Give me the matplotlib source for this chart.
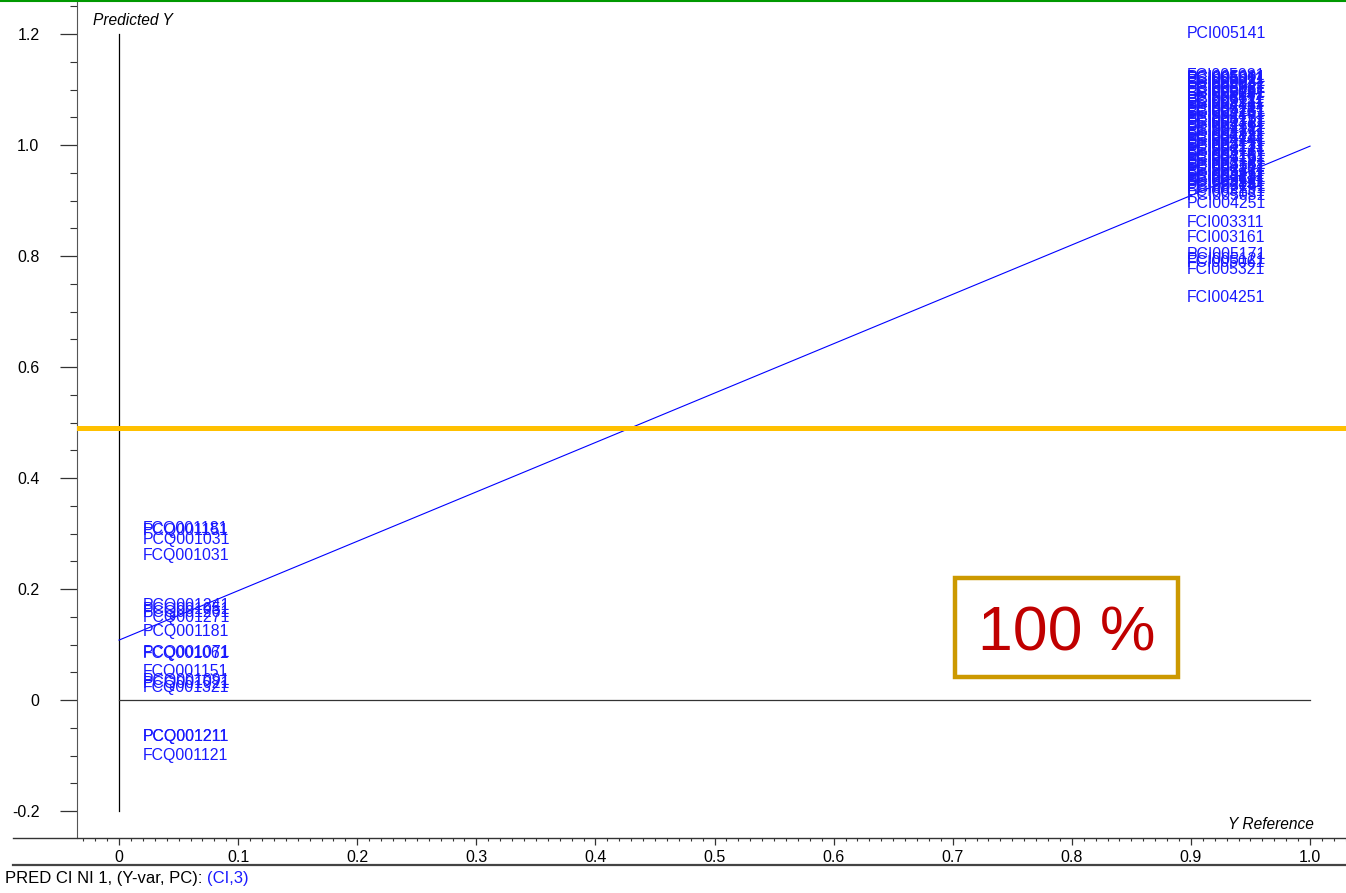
import matplotlib
matplotlib.use("Agg")
import matplotlib.pyplot as plt
from matplotlib.lines import Line2D
from matplotlib.patches import Rectangle
from matplotlib.ticker import MultipleLocator

plt.rcParams["font.family"] = ["Liberation Sans", "DejaVu Sans"]

# samples with reference Y = 1
high_names = [
    "PCI005141", "FCI005081", "PCI005091", "FCI005011", "PCI005021", "FCI005031",
    "PCI005221", "FCI005111", "PCI005261", "FCI005241", "PCI005311", "FCI005131",
    "PCI004111", "FCI004121", "PCI004131", "FCI004141", "PCI004161", "FCI004171",
    "PCI004181", "FCI004191", "PCI004211", "FCI004221", "PCI004231", "FCI004241",
    "PCI003111", "FCI003121", "PCI003131", "FCI003141", "PCI003151", "FCI003171",
    "PCI003181", "FCI003191", "PCI003211", "FCI003221", "PCI003231", "FCI003241",
    "PCI005011", "FCI005021", "PCI005031", "FCI005091", "PCI005111", "FCI005221",
    "PCI005241", "FCI005261", "PCI005131", "FCI005311", "PCI004121", "FCI004111",
    "PCI004141", "FCI004131", "PCI004171", "FCI004161", "PCI004191", "FCI004181",
    "PCI004221", "FCI004211", "PCI003121", "FCI003111", "PCI003141", "FCI003131",
    "PCI002231", "PCI002251", "PCI005051", "PCI004251", "FCI003311", "FCI003161",
    "PCI005171", "PCI005121", "FCI005061", "FCI005321", "FCI004251",
]
high_pred = [
    1.204, 1.128, 1.125, 1.121, 1.117, 1.112,
    1.107, 1.103, 1.098, 1.092, 1.087, 1.082,
    1.076, 1.070, 1.064, 1.058, 1.052, 1.046,
    1.040, 1.034, 1.028, 1.022, 1.016, 1.010,
    1.004, 0.998, 0.992, 0.986, 0.980, 0.974,
    0.968, 0.962, 0.956, 0.950, 0.944, 0.938,
    1.123, 1.114, 1.105, 1.095, 1.085, 1.079,
    1.067, 1.061, 1.049, 1.043, 1.031, 1.019,
    1.013, 1.001, 0.995, 0.983, 0.977, 0.965,
    0.959, 0.947, 0.941, 0.935, 0.929, 0.920,
    0.932, 0.925, 0.912, 0.897, 0.863, 0.836,
    0.806, 0.797, 0.792, 0.779, 0.728,
]

# samples with reference Y = 0
low_names = [
    "FCQ001181", "PCQ001151", "PCQ001031", "FCQ001031", "PCQ001241", "PCQ001051",
    "PCQ001261", "PCQ001271", "PCQ001181", "PCQ001071", "FCQ001061", "FCQ001151",
    "PCQ001091", "PCQ001021", "FCQ001321", "PCQ001211", "PCQ001211", "FCQ001121",
]
low_pred = [
    0.312, 0.308, 0.293, 0.264, 0.174, 0.167,
    0.161, 0.152, 0.126, 0.089, 0.087, 0.055,
    0.039, 0.032, 0.026, -0.063, -0.063, -0.097,
]

fit_offset = 0.108
fit_slope = 0.890
threshold = 0.49
score_text = "100 %"

fig = plt.figure(figsize=(13.46, 8.93), dpi=100)
ax = fig.add_axes([77 / 1346, 55 / 893, 1269 / 1346, 838 / 893])
ax.set_xlim(-0.0353, 1.0302)
ax.set_ylim(-0.2486, 1.2613)

for s in ["top", "right", "bottom"]:
    ax.spines[s].set_visible(False)
ax.spines["left"].set_color("#555555")

# reference lines
ax.plot([0, 0], [-0.2, 1.2], color="black", lw=0.9)
ax.plot([0, 1], [0, 0], color="#333333", lw=0.9)
xs = [0, 1]
ax.plot(xs, [fit_offset + fit_slope * x for x in xs], color="#0000ff", lw=0.8)
ax.axhline(threshold, color="#ffc000", lw=3.6, zorder=3)

blue = "#1a1aff"
for n, y in zip(low_names, low_pred):
    ax.annotate(n, (0, y), xytext=(17.3, -1.2), textcoords="offset points",
                va="center", ha="left", fontsize=11.4, color=blue)
for n, y in zip(high_names, high_pred):
    ax.annotate(n, (1, y), xytext=(-88.6, -1.2), textcoords="offset points",
                va="center", ha="left", fontsize=11.4, color=blue)

# score box
ax.add_patch(Rectangle((0.702, 0.0414), 0.187, 0.178, fill=False,
                       edgecolor="#cc9900", lw=3.2, zorder=4))
ax.text(0.7955, 0.131, score_text, ha="center", va="center_baseline",
        fontsize=45, color="#c00000", zorder=5)

# ticks
ax.yaxis.set_minor_locator(MultipleLocator(0.05))
ax.xaxis.set_minor_locator(MultipleLocator(0.01))
ax.set_yticks([-0.2, 0, 0.2, 0.4, 0.6, 0.8, 1.0, 1.2])
ax.set_yticklabels(["-0.2", "0", "0.2", "0.4", "0.6", "0.8", "1.0", "1.2"])
ax.set_xticks([i / 10 for i in range(11)])
ax.set_xticklabels(["0"] + [f"{i / 10:.1f}" for i in range(1, 11)])
ax.tick_params(axis="y", which="major", length=12, width=0.9, color="#333333",
               pad=15, labelsize=11.5)
ax.tick_params(axis="y", which="minor", length=5, width=0.8, color="#333333")
ax.tick_params(axis="x", which="major", length=5, width=0.9, color="#333333",
               pad=4, labelsize=11.5)
ax.tick_params(axis="x", which="minor", length=2, width=0.8, color="#333333")

ax.text(0.0126, 0.976, "Predicted Y", transform=ax.transAxes, style="italic",
        fontsize=11.2, va="center", ha="left")
ax.text(0.975, 0.0167, "Y Reference", transform=ax.transAxes, style="italic",
        fontsize=11.2, va="center", ha="right")

# frame lines outside the axes
H = 893.0
fig.add_artist(Line2D([13 / 1346, 1], [1 - 838 / H] * 2, color="#333333", lw=1.0))
fig.add_artist(Line2D([13 / 1346, 1], [1 - 865 / H] * 2, color="#444444", lw=1.6))
fig.add_artist(Line2D([0, 1], [1 - 0.8 / H] * 2, color="#009900", lw=1.5))

t1 = fig.text(5 / 1346, 1 - 878 / H, "PRED CI NI 1, (Y-var, PC): ", fontsize=12,
              va="center", ha="left")
ax.annotate("(CI,3)", xy=(1, 0), xycoords=t1, va="bottom", ha="left",
            fontsize=12, color="#1a1aff")

fig.savefig("out.png", dpi=100)
